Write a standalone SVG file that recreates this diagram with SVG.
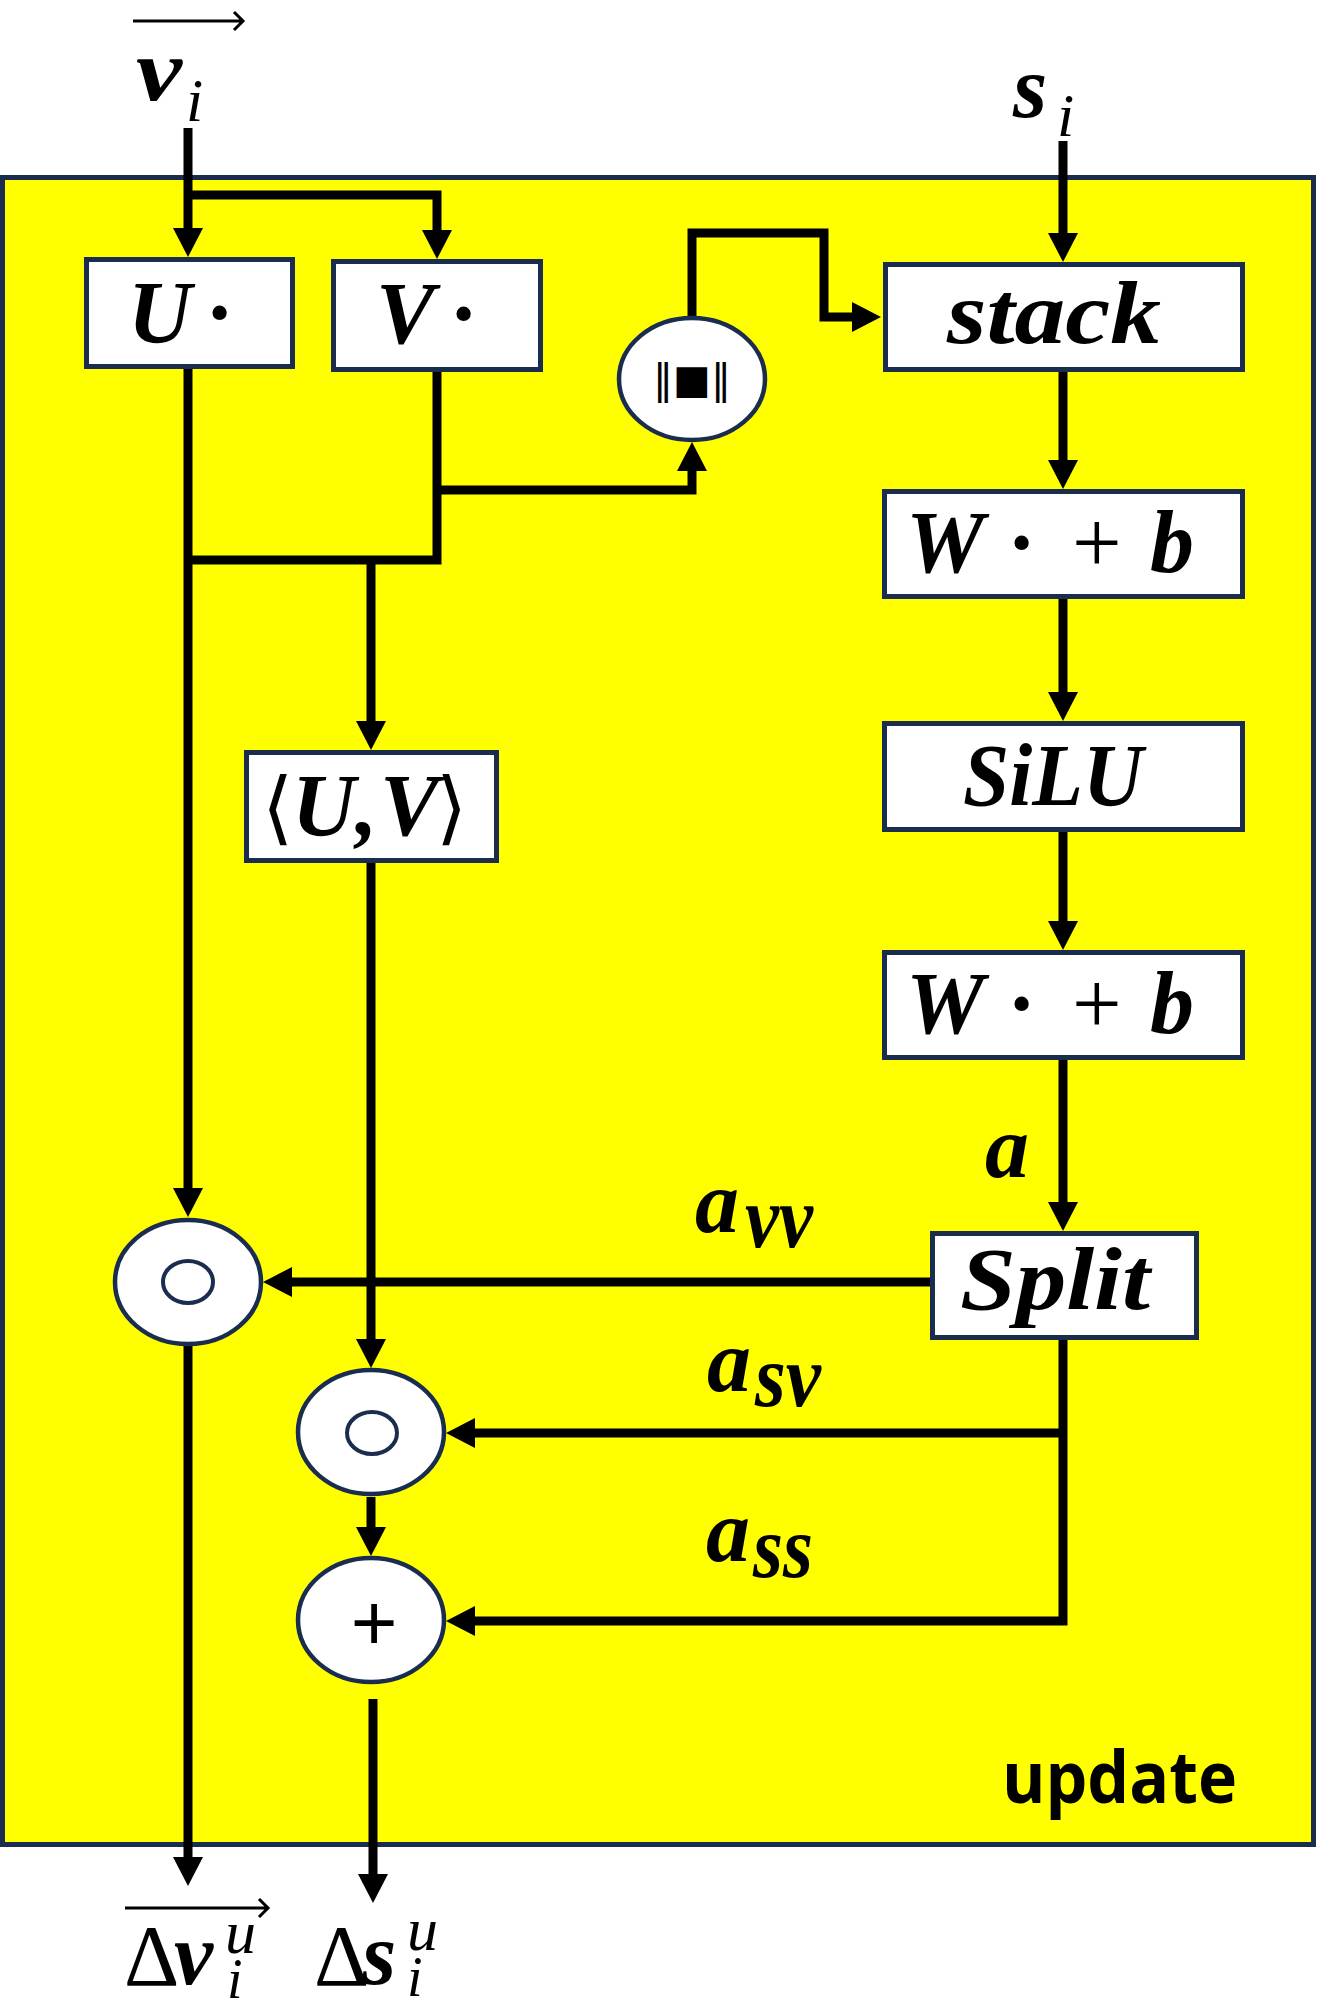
<svg xmlns="http://www.w3.org/2000/svg" width="1318" height="2010" viewBox="0 0 1318 2010">
<style>
.box{fill:#fff;stroke:#1b2d4f;stroke-width:5}
.ell{fill:#fff;stroke:#1b2d4f;stroke-width:4.5}
.inner{fill:none;stroke:#1b2d4f;stroke-width:4}
.con{fill:none;stroke:#000;stroke-width:9;stroke-linejoin:miter}
.m{font-family:"Liberation Serif","DejaVu Serif",serif;font-weight:bold;font-style:italic;font-size:88px;fill:#000}
.r{font-family:"Liberation Serif","DejaVu Serif",serif;font-weight:normal;font-style:italic;fill:#000}
.up{font-family:"Liberation Serif","DejaVu Serif",serif;font-weight:normal;font-style:normal;fill:#000}
.vec{fill:none;stroke:#000;stroke-width:3}
</style>
<defs>
<marker id="ah" viewBox="0 0 29 30" refX="0" refY="15" markerWidth="29" markerHeight="30" markerUnits="userSpaceOnUse" orient="auto">
<path d="M0,0 L29,15 L0,30 z" fill="#000"/>
</marker>
</defs>
<rect id="update-block" x="2.5" y="177.5" width="1311" height="1667" fill="#ffff00" stroke="#1b2d4f" stroke-width="5"/>
<g id="connectors">
<path class="con" d="M188,128 V228" marker-end="url(#ah)"/>
<path class="con" d="M188,195 H437 V230" marker-end="url(#ah)"/>
<path class="con" d="M188,369 V1188" marker-end="url(#ah)"/>
<path class="con" d="M437,372 V560 H188"/>
<path class="con" d="M437,490 H692 V471" marker-end="url(#ah)"/>
<path class="con" d="M371,560 V721" marker-end="url(#ah)"/>
<path class="con" d="M692,317 V233 H824 V317 H852" marker-end="url(#ah)"/>
<path class="con" d="M1063,141 V233" marker-end="url(#ah)"/>
<path class="con" d="M1063,372 V460" marker-end="url(#ah)"/>
<path class="con" d="M1063,599 V692" marker-end="url(#ah)"/>
<path class="con" d="M1063,832 V921" marker-end="url(#ah)"/>
<path class="con" d="M1063,1060 V1202" marker-end="url(#ah)"/>
<path class="con" d="M930,1282 H292" marker-end="url(#ah)"/>
<path class="con" d="M371,863 V1339" marker-end="url(#ah)"/>
<path class="con" d="M1063,1340 V1621 H475" marker-end="url(#ah)"/>
<path class="con" d="M1063,1433 H475" marker-end="url(#ah)"/>
<path class="con" d="M371,1497 V1527" marker-end="url(#ah)"/>
<path class="con" d="M188,1346 V1857" marker-end="url(#ah)"/>
<path class="con" d="M373,1699 V1874" marker-end="url(#ah)"/>
</g>
<g id="input-v">
<path class="vec" d="M133,21 H242 M234,12 L243,21 L234,30"/>
<text class="m" x="136" y="100" textLength="46" lengthAdjust="spacingAndGlyphs">v</text>
<text class="r" x="186" y="121" font-size="62">i</text>
</g>
<g id="input-s">
<text class="m" x="1013" y="117">s</text>
<text class="r" x="1057" y="136" font-size="62">i</text>
</g>
<g id="node-U">
<rect class="box" x="86.5" y="259.5" width="206" height="107"/>
<text class="m" y="342"><tspan x="128">U</tspan><tspan x="208">·</tspan></text>
</g>
<g id="node-V">
<rect class="box" x="333.5" y="261.5" width="207" height="108"/>
<text class="m" y="343"><tspan x="376">V</tspan><tspan x="452">·</tspan></text>
</g>
<g id="node-norm">
<ellipse class="ell" cx="692" cy="379" rx="73" ry="61"/>
<text x="692" y="393" text-anchor="middle" font-family="DejaVu Sans, sans-serif" font-size="40" fill="#000">‖■‖</text>
</g>
<g id="node-stack">
<rect class="box" x="885.5" y="264.5" width="357" height="105"/>
<text class="m" x="947" y="343" textLength="214" lengthAdjust="spacingAndGlyphs">stack</text>
</g>
<g id="node-linear1">
<rect class="box" x="884.5" y="491.5" width="358" height="105"/>
<text class="m" y="572"><tspan x="906">W</tspan><tspan x="1010">·</tspan><tspan x="1072" class="up">+</tspan><tspan x="1150">b</tspan></text>
</g>
<g id="node-silu">
<rect class="box" x="884.5" y="723.5" width="358" height="106"/>
<text class="m" x="963" y="805" textLength="180" lengthAdjust="spacingAndGlyphs">SiLU</text>
</g>
<g id="node-linear2">
<rect class="box" x="884.5" y="952.5" width="358" height="105"/>
<text class="m" y="1033"><tspan x="906">W</tspan><tspan x="1010">·</tspan><tspan x="1072" class="up">+</tspan><tspan x="1150">b</tspan></text>
</g>
<g id="node-inner">
<rect class="box" x="246.5" y="752.5" width="250" height="108"/>
<text class="m" y="835"><tspan x="262" class="up" font-size="80">⟨</tspan><tspan x="292">U,</tspan><tspan x="380">V</tspan><tspan x="436" class="up" font-size="80">⟩</tspan></text>
</g>
<g id="node-split">
<rect class="box" x="932.5" y="1233.5" width="264" height="104"/>
<text class="m" x="960" y="1309" textLength="190" lengthAdjust="spacingAndGlyphs">Split</text>
</g>
<g id="node-hadamard1">
<ellipse class="ell" cx="188" cy="1282" rx="73" ry="62"/>
<ellipse class="inner" cx="188" cy="1282" rx="25" ry="21"/>
</g>
<g id="node-hadamard2">
<ellipse class="ell" cx="371" cy="1432" rx="73" ry="62"/>
<ellipse class="inner" cx="372" cy="1433" rx="25" ry="21"/>
</g>
<g id="node-add">
<ellipse class="ell" cx="371" cy="1620" rx="73" ry="62"/>
<text x="374" y="1650" text-anchor="middle" font-family="Liberation Sans, sans-serif" font-size="80" fill="#000">+</text>
</g>
<g id="labels">
<text class="m" x="985" y="1177">a</text>
<text class="m" x="695" y="1232">a</text>
<text class="m" x="745" y="1247" font-size="72" textLength="68" lengthAdjust="spacingAndGlyphs">vv</text>
<text class="m" x="707" y="1391">a</text>
<text class="m" x="755" y="1406" font-size="72" textLength="66" lengthAdjust="spacingAndGlyphs">sv</text>
<text class="m" x="706" y="1561">a</text>
<text class="m" x="753" y="1577" font-size="72" textLength="60" lengthAdjust="spacingAndGlyphs">ss</text>
<text x="1002" y="1803" font-family="Open Sans, sans-serif" font-weight="bold" font-size="72" textLength="235" lengthAdjust="spacingAndGlyphs" fill="#000">update</text>
</g>
<g id="output-v">
<path class="vec" d="M125,1908 H267 M259,1899 L268,1908 L259,1917"/>
<text class="up" x="124" y="1985" font-size="86" font-weight="bold">Δ</text>
<text class="m" x="174" y="1984">v</text>
<text class="r" x="225" y="1953" font-size="62">u</text>
<text class="r" x="227" y="1998" font-size="56">i</text>
</g>
<g id="output-s">
<text class="up" x="314" y="1985" font-size="86" font-weight="bold">Δ</text>
<text class="m" x="362" y="1984">s</text>
<text class="r" x="407" y="1950" font-size="62">u</text>
<text class="r" x="407" y="1996" font-size="56">i</text>
</g>
</svg>
